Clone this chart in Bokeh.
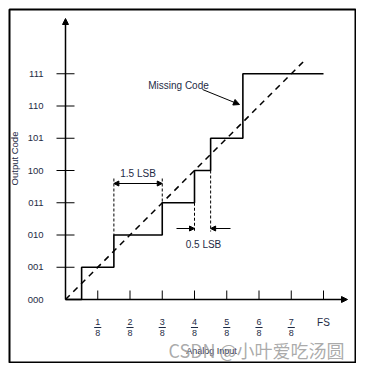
import numpy as np
from bokeh.plotting import figure
from bokeh.models import Range1d, Arrow, NormalHead
from bokeh.core.properties import value
from bokeh.embed import file_html
from bokeh.resources import INLINE

# ---------------- data ----------------
code_labels = ["000", "001", "010", "011", "100", "101", "110", "111"]
code_values = [0, 1, 2, 3, 4, 5, 6, 7]
x_tick_values = [1, 2, 3, 4, 5, 6, 7]
x_tick_num = ["1", "2", "3", "4", "5", "6", "7"]
x_tick_den = ["8", "8", "8", "8", "8", "8", "8"]
fs_value = 8
fs_label = "FS"
# actual (non-ideal) transfer function: transition points in LSB and output code held after each
transition_x = [0.0, 0.5, 1.5, 3.0, 4.0, 4.5, 5.5, 8.0]
output_codes = [0, 1, 2, 3, 4, 5, 7, 7]
ideal_end = 7.45
missing_code = 6

# ---------------- layout helpers ----------------
PX = 32.25           # pixels per LSB
OX, OY = 65, 299     # page position of origin
FL, FR, FT, FB = 9, 355, 9, 362  # frame edges on the page

def ux(px):
    return (px - OX) / PX

def vy(py):
    return (OY - py) / PX

p = figure(width=356, height=363, output_backend="svg", toolbar_location=None,
           x_range=Range1d(ux(FL), ux(FR)), y_range=Range1d(vy(FB), vy(FT)),
           x_axis_location=None, y_axis_location=None,
           min_border_left=FL, min_border_top=FT, min_border_right=1, min_border_bottom=1)
p.grid.visible = False
p.outline_line_color = "black"
p.outline_line_width = 2
p.background_fill_color = "white"

FONT = value("Liberation Sans")
LBL = "#1e2b45"

# axes with arrowheads
p.add_layout(Arrow(end=NormalHead(size=6, fill_color="black", line_color="black"),
                   x_start=0, y_start=0, x_end=0, y_end=vy(18), line_width=1.5, line_color="black"))
p.add_layout(Arrow(end=NormalHead(size=6, fill_color="black", line_color="black"),
                   x_start=0, y_start=0, x_end=ux(347), y_end=0, line_width=1.5, line_color="black"))

# y ticks
yt = code_values[1:]
p.segment(x0=[ux(56)] * len(yt), x1=[ux(74)] * len(yt), y0=yt, y1=yt, line_color="black", line_width=1)
# x ticks
xt = x_tick_values + [fs_value]
p.segment(x0=xt, x1=xt, y0=[0] * len(xt), y1=[vy(290)] * len(xt), line_color="black", line_width=1)

# y labels
p.text(x=[ux(43)] * len(code_values), y=code_values, text=code_labels, text_align="right",
       text_baseline="middle", text_font=FONT, text_font_size=value("9.5px"), text_color=LBL)
# x fraction labels
p.text(x=x_tick_values, y=[vy(321)] * 7, text=x_tick_num, text_align="center",
       text_baseline="middle", text_font=FONT, text_font_size=value("9px"), text_color=LBL)
p.text(x=x_tick_values, y=[vy(332.5)] * 7, text=x_tick_den, text_align="center",
       text_baseline="middle", text_font=FONT, text_font_size=value("9px"), text_color=LBL)
xv = np.array(x_tick_values, dtype=float)
p.segment(x0=xv - 0.11, x1=xv + 0.11, y0=[vy(327)] * 7, y1=[vy(327)] * 7, line_color=LBL, line_width=1)
p.text(x=[fs_value], y=[vy(322)], text=[fs_label], text_align="center", text_baseline="middle",
       text_font=FONT, text_font_size=value("10px"), text_color=LBL)

# axis titles
p.text(x=[ux(14)], y=[vy(158)], text=["Output Code"], angle=np.pi / 2, text_align="center",
       text_baseline="middle", text_font=FONT, text_font_size=value("9.5px"), text_color=LBL)
p.text(x=[ux(211)], y=[vy(350)], text=["Analog Input"], text_align="center", text_baseline="middle",
       text_font=FONT, text_font_size=value("9px"), text_color=LBL)

# ideal dashed line
p.line(x=[0, ideal_end], y=[0, ideal_end], line_color="black", line_width=1.5, line_dash="6 5")

# actual staircase
sx, sy = [transition_x[0]], [output_codes[0]]
for i in range(1, len(transition_x)):
    sx += [transition_x[i], transition_x[i]]
    sy += [output_codes[i - 1], output_codes[i]]
p.line(x=sx, y=sy, line_color="black", line_width=1.6)

# 1.5 LSB annotation
a0, a1 = transition_x[2], transition_x[3]
top = vy(178)
p.segment(x0=[a0, a1], x1=[a0, a1], y0=[top, top], y1=[output_codes[2], output_codes[3]],
          line_color="black", line_width=1, line_dash="3 2")
p.add_layout(Arrow(start=NormalHead(size=5, fill_color="black", line_color="black"),
                   end=NormalHead(size=5, fill_color="black", line_color="black"),
                   x_start=a0, y_start=vy(183), x_end=a1, y_end=vy(183), line_width=1))
p.text(x=[(a0 + a1) / 2], y=[vy(173)], text=["%.1f LSB" % (a1 - a0)], text_align="center",
       text_baseline="middle", text_font=FONT, text_font_size=value("10px"), text_color=LBL)

# 0.5 LSB annotation
b0, b1 = transition_x[4], transition_x[5]
bot = vy(231)
p.segment(x0=[b0, b1], x1=[b0, b1], y0=[output_codes[3], output_codes[4]], y1=[bot, bot],
          line_color="black", line_width=1, line_dash="3 2")
p.add_layout(Arrow(end=NormalHead(size=5, fill_color="black", line_color="black"),
                   x_start=ux(176), y_start=vy(228), x_end=b0, y_end=vy(228), line_width=1))
p.add_layout(Arrow(end=NormalHead(size=5, fill_color="black", line_color="black"),
                   x_start=ux(230), y_start=vy(228), x_end=b1, y_end=vy(228), line_width=1))
p.text(x=[ux(203)], y=[vy(244)], text=["%.1f LSB" % (b1 - b0)], text_align="center",
       text_baseline="middle", text_font=FONT, text_font_size=value("10px"), text_color=LBL)

# Missing code annotation
p.text(x=[ux(178)], y=[vy(85)], text=["Missing Code"], text_align="center", text_baseline="middle",
       text_font=FONT, text_font_size=value("10px"), text_color=LBL)
p.add_layout(Arrow(end=NormalHead(size=6, fill_color="black", line_color="black"),
                   x_start=ux(202), y_start=vy(89), x_end=ux(239), y_end=vy(104), line_width=1))

# watermark
p.text(x=[ux(256)], y=[vy(349)], text=["CSDN @小叶爱吃汤圆"], text_align="center", text_baseline="middle",
       text_font=value("Noto Sans CJK SC"), text_font_size=value("18px"), text_color="#9c9c9c",
       text_alpha=0.85)

open("out.html", "w").write(file_html(p, INLINE))
